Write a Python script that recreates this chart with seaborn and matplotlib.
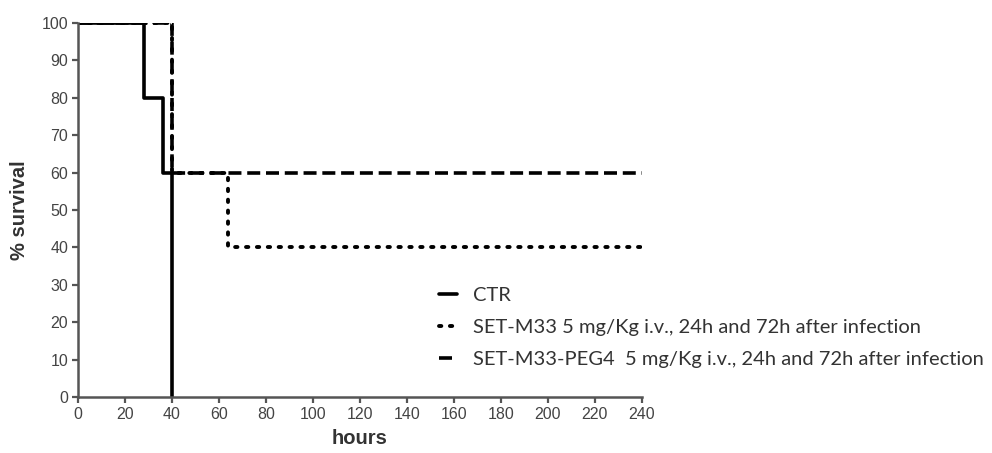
import matplotlib
matplotlib.use("Agg")
import matplotlib.pyplot as plt
import seaborn as sns
import pandas as pd

# Kaplan-Meier style survival steps (% survival vs hours)
ctr_hours = [0, 28, 36, 40]
ctr_surv = [100, 80, 60, 0]
m33_hours = [0, 40, 64, 240]
m33_surv = [100, 60, 40, 40]
peg_hours = [0, 40, 240]
peg_surv = [100, 60, 60]

labels = [
    "CTR",
    "SET-M33 5 mg/Kg i.v., 24h and 72h after infection",
    "SET-M33-PEG4  5 mg/Kg i.v., 24h and 72h after infection",
]
x_ticks = list(range(0, 241, 20))
y_ticks = list(range(0, 101, 10))

sns.set_theme(style="ticks")
plt.rcParams["font.family"] = ["Liberation Sans", "DejaVu Sans"]

fig = plt.figure(figsize=(9.92, 4.53), dpi=100)
ax = fig.add_axes([0.0786, 0.1236, 0.5685, 0.8256])

frames = [
    pd.DataFrame({"hours": ctr_hours, "survival": ctr_surv, "group": labels[0]}),
    pd.DataFrame({"hours": m33_hours, "survival": m33_surv, "group": labels[1]}),
    pd.DataFrame({"hours": peg_hours, "survival": peg_surv, "group": labels[2]}),
]
styles = [
    dict(linestyle="-", linewidth=2.6),
    dict(linestyle=(0, (0.6, 2.2)), linewidth=2.8, dash_capstyle="round"),
    dict(linestyle=(0, (3.6, 1.6)), linewidth=2.6),
]

handles = []
for df, st in zip(frames, styles):
    sns.lineplot(data=df, x="hours", y="survival", ax=ax, color="black",
                 drawstyle="steps-post", estimator=None, sort=False, **st)
    handles.append(ax.lines[-1])

ax.set_xlim(0, 240)
ax.set_ylim(0, 100)
ax.set_xticks(x_ticks)
ax.set_yticks(y_ticks)
ax.tick_params(axis="both", direction="out", length=4, width=1.6,
               color="#555555", labelsize=11.5, labelcolor="#444444", pad=3)
for side in ("left", "bottom"):
    ax.spines[side].set_linewidth(1.8)
    ax.spines[side].set_color("#555555")
sns.despine(ax=ax)
ax.set_xlabel("hours", fontsize=14.5, fontweight="bold", color="#333333", labelpad=5)
ax.set_ylabel("% survival", fontsize=14.5, fontweight="bold", color="#333333", labelpad=9)

leg = fig.legend(handles, labels, loc="upper left",
                 bbox_to_anchor=(0.424, 0.407), frameon=False,
                 handlelength=0.9, handletextpad=0.8, labelspacing=0.74,
                 prop={"family": "Lato", "size": 14.5})
for t in leg.get_texts():
    t.set_color("#333333")

fig.savefig("out.png", dpi=100)
